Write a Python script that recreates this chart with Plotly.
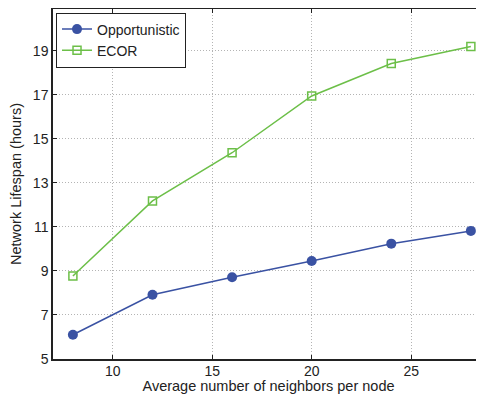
import plotly.graph_objects as go

neighbors = [8, 12, 16, 20, 24, 28]
opportunistic = [6.1, 7.92, 8.71, 9.45, 10.24, 10.82]
ecor = [8.77, 12.18, 14.37, 16.95, 18.42, 19.2]
y_ticks = [5, 7, 9, 11, 13, 15, 17, 19]
x_ticks = [10, 15, 20, 25]

blue = "#3a52a3"
green = "#6cbf48"
font = "Liberation Sans, Arial, sans-serif"

fig = go.Figure()
fig.add_trace(go.Scatter(
    x=neighbors, y=opportunistic, name="Opportunistic", mode="lines+markers",
    line=dict(color=blue, width=1.5),
    marker=dict(symbol="circle", size=10, color=blue),
))
fig.add_trace(go.Scatter(
    x=neighbors, y=ecor, name="ECOR", mode="lines+markers",
    line=dict(color=green, width=1.5),
    marker=dict(symbol="square-open", size=8, color=green, line=dict(width=1.5)),
))

# page body has an 8px default margin, so the figure is sized/margined to compensate
fig.update_layout(
    width=476, height=386,
    margin=dict(l=45, r=0, t=1, b=35),
    paper_bgcolor="white", plot_bgcolor="white",
    font=dict(family=font, size=14, color="#222"),
    showlegend=True,
    legend=dict(
        x=0.007, y=0.99, xanchor="left", yanchor="top",
        bgcolor="white", bordercolor="#222", borderwidth=1,
        font=dict(size=14, family=font, color="#222"),
        tracegroupgap=0, itemwidth=30,
    ),
    xaxis=dict(
        range=[7, 28.66], tickvals=x_ticks, ticks="inside", ticklen=4,
        tickcolor="#222", showline=True, linecolor="#222", linewidth=1.5,
        mirror="ticks", showgrid=True, gridcolor="#b4b4b4", griddash="1px,2px",
        gridwidth=1, zeroline=False, ticklabelstandoff=-2,
        tickfont=dict(size=14, family=font),
        title=dict(text="Average number of neighbors per node", font=dict(size=14.5, family=font), standoff=4),
    ),
    yaxis=dict(
        range=[5, 20.9], tickvals=y_ticks, ticks="inside", ticklen=4,
        tickcolor="#222", showline=True, linecolor="#222", linewidth=1.5,
        showgrid=True, gridcolor="#b4b4b4", griddash="1px,2px",
        gridwidth=1, zeroline=False,
        tickfont=dict(size=14, family=font),
        title=dict(text="Network Lifespan (hours)", font=dict(size=14.5, family=font), standoff=8),
    ),
)

fig.write_html("out.html")
